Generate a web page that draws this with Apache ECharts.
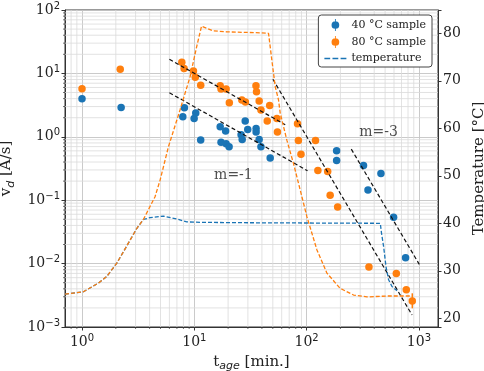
<!DOCTYPE html>
<html lang="en">
<head>
  <meta charset="UTF-8">
  <title>deposition rate vs age</title>
  <script src="https://cdn.jsdelivr.net/npm/echarts@6/dist/echarts.min.js"></script>
  <style>
    html, body { margin: 0; padding: 0; background: #fff; }
  </style>
</head>
<body>
  <div id="main" style="width: 484px;height:371px;"></div>
  <script>
    // 40 °C sample: age [min] and rate [Å/s]
    var t40 = [1.0, 2.23, 8.16, 7.90, 10.3, 9.96, 11.4, 17.0, 19.0, 17.3, 19.2, 20.4, 28.4, 26.1, 26.7, 29.9, 35.5, 35.5, 37.8, 39.2, 47.4, 185, 185, 321, 459, 352, 595, 761];
    var v40 = [3.98, 2.91, 2.87, 2.08, 2.37, 1.94, 0.887, 1.44, 1.23, 0.819, 0.775, 0.695, 1.77, 1.08, 0.903, 1.30, 1.35, 1.19, 0.910, 0.695, 0.461, 0.605, 0.421, 0.353, 0.264, 0.145, 0.0539, 0.0124];

    // 80 °C sample
    var t80 = [1.0, 2.19, 7.74, 8.11, 9.82, 10.2, 11.4, 17.0, 17.3, 19.2, 20.5, 26.5, 28.5, 35.4, 35.8, 37.8, 39.2, 44.6, 46.9, 54.4, 55.0, 83.0, 84.5, 89.1, 120, 126, 154, 162, 189, 359, 629, 772, 873];
    var v80 = [5.73, 11.6, 15.0, 12.0, 10.9, 8.68, 6.51, 6.37, 5.67, 5.67, 3.44, 3.80, 3.53, 6.37, 5.14, 3.66, 2.64, 1.77, 3.13, 1.94, 1.19, 1.60, 0.877, 0.529, 0.877, 0.294, 0.284, 0.120, 0.0784, 0.00884, 0.00695, 0.00388, 0.00257];

    // error bar that is big enough to see
    var errT80 = [873];
    var errLo80 = [0.00197];
    var errHi80 = [0.0034];

    // temperature profiles [°C]
    var tempTimeOrange = [0.706, 1.03, 1.40, 1.66, 2.04, 2.50, 3.07, 3.52, 4.47, 4.96, 5.88, 7.47, 9.18, 10.5, 11.6, 14.8, 19.5, 38.6, 45.8, 49.0, 52.5, 56.2, 58.2, 66.7, 76.4, 87.7, 100.6, 123.6, 151.7, 199, 262, 345, 520, 838];
    var tempOrange = [25.1, 25.6, 27.4, 28.8, 31.6, 35.2, 38.9, 40.8, 45.6, 49.1, 56.1, 63.9, 70.9, 77.2, 81.5, 80.5, 80.3, 80.1, 80.0, 74.4, 68.8, 66.0, 63.2, 57.5, 52.6, 47.0, 41.4, 34.4, 29.5, 26.3, 24.9, 24.5, 24.7, 24.7];
    var tempTimeBlue = [0.706, 1.03, 1.40, 1.66, 2.04, 2.50, 3.07, 3.52, 4.04, 5.30, 6.74, 8.57, 11.3, 38.6, 453, 464, 485, 509, 537, 576, 638];
    var tempBlue = [25.1, 25.6, 27.4, 28.8, 31.6, 35.2, 38.9, 40.8, 41.2, 41.5, 41.0, 40.3, 40.2, 40.1, 40.0, 38.0, 35.1, 30.9, 28.1, 26.7, 25.8];

    // slope guides (end points)
    var guideUpT = [6.0, 64.5], guideUpV = [16.7, 1.55];
    var guideLoT = [6.0, 101.9], guideLoV = [4.96, 0.292];
    var guideA_T = [50.1, 868], guideA_V = [8.07, 0.00155];
    var guideB_T = [250, 1008], guideB_V = [0.639, 0.00972];

    var notes = [['m=-1', 22.3, 0.248], ['m=-3', 437, 1.157]];

    var X_MIN = 0.7056, X_MAX = 1479, Y_MIN = 0.001, Y_MAX = 100;
    var T_MIN = 18.17, T_MAX = 84.9;

    var BLUE = '#1a74b5', ORANGE = '#ff7f0e';
    var SERIF = 'DejaVu Serif', SANS = 'DejaVu Sans';

    function pairs(xs, ys) {
      return xs.map(function (x, i) { return [x, ys[i]]; });
    }

    // 2..9 x 10^n between lo and hi, for the minor grid
    function minorValues(lo, hi) {
      var out = [];
      for (var e = Math.floor(Math.log10(lo)); e <= Math.ceil(Math.log10(hi)); e++) {
        for (var k = 2; k <= 9; k++) {
          var v = +(k * Math.pow(10, e)).toPrecision(6);
          if (v > lo && v < hi) out.push(v);
        }
      }
      return out;
    }

    function powLabel(v) {
      var e = Math.log10(v);
      var r = Math.round(e);
      if (Math.abs(e - r) > 1e-6) return '';
      return '{b|10}{e|' + (r < 0 ? '\u2212' + (-r) : r) + '}';
    }

    var powRich = {
      b: { fontFamily: SERIF, fontSize: 14, color: '#222', lineHeight: 18 },
      e: { fontFamily: SANS, fontSize: 10, color: '#222', lineHeight: 10, verticalAlign: 'top' }
    };

    var markerIcon = 'path://M4,0h1v14h-1z M9,7a4.5,4.5 0 1 1 -9,0a4.5,4.5 0 1 1 9,0z';
    var dashIcon = 'path://M0,0h5v1.2h-5z M7,0h5v1.2h-5z M14,0h5v1.2h-5z';

    var myChart = echarts.init(document.getElementById('main'));

    option = {
      animation: false,
      backgroundColor: '#fff',
      grid: {
        left: 65, top: 10, width: 373, height: 317,
        outerBoundsMode: 'none',
        containLabel: false,
        show: true, borderColor: '#333', borderWidth: 1
      },
      legend: {
        orient: 'vertical',
        right: 52,
        top: 15,
        padding: [4, 6, 3, 6],
        itemGap: 5,
        itemWidth: 22,
        itemHeight: 12,
        borderColor: '#444',
        borderWidth: 1,
        borderRadius: 3,
        backgroundColor: '#fff',
        textStyle: { fontFamily: SERIF, fontSize: 11, color: '#222' },
        data: [
          { name: '40 °C sample', icon: markerIcon },
          { name: '80 °C sample', icon: markerIcon },
          { name: 'temperature', icon: dashIcon }
        ]
      },
      xAxis: {
        type: 'log',
        min: X_MIN,
        max: X_MAX,
        name: '{a|t}{s|age}{a| [min.]}',
        nameLocation: 'middle',
        nameGap: 25,
        nameTextStyle: {
          rich: {
            a: { fontFamily: SERIF, fontSize: 15, color: '#222', lineHeight: 20 },
            s: { fontFamily: SANS, fontStyle: 'italic', fontSize: 11, color: '#222', lineHeight: 11, verticalAlign: 'bottom' }
          }
        },
        axisLine: { lineStyle: { color: '#333', width: 1 } },
        axisTick: { length: 3.5, lineStyle: { color: '#333' } },
        axisLabel: { margin: 6, formatter: powLabel, rich: powRich, showMinLabel: false, showMaxLabel: false },
        splitLine: { show: true, lineStyle: { color: '#c4c4c4', width: 0.9 } }
      },
      yAxis: [
        {
          type: 'log',
          min: Y_MIN,
          max: Y_MAX,
          name: '{a|v}{s|d}{a| [Å/s]}',
          nameLocation: 'middle',
          nameRotate: 90,
          nameGap: 46,
          nameTextStyle: {
            rich: {
              a: { fontFamily: SERIF, fontSize: 15, color: '#222', lineHeight: 20 },
              s: { fontFamily: SANS, fontStyle: 'italic', fontSize: 11, color: '#222', lineHeight: 11, verticalAlign: 'bottom' }
            }
          },
          axisLine: { show: true, lineStyle: { color: '#333', width: 1 } },
          axisTick: { length: 3.5, lineStyle: { color: '#333' } },
          axisLabel: { margin: 5, formatter: powLabel, rich: powRich },
          splitLine: { show: true, lineStyle: { color: '#c4c4c4', width: 0.9 } }
        },
        {
          type: 'value',
          position: 'right',
          min: T_MIN,
          max: T_MAX,
          name: 'Temperature [°C]',
          nameLocation: 'middle',
          nameRotate: 90,
          nameGap: 27,
          nameTextStyle: { fontFamily: SERIF, fontSize: 15, color: '#222' },
          axisLine: { show: true, lineStyle: { color: '#333', width: 1 } },
          axisTick: { length: 3.5, lineStyle: { color: '#333' } },
          axisLabel: {
            margin: 5,
            fontFamily: SERIF,
            fontSize: 14,
            color: '#222',
            formatter: function (v) { return Math.abs(v % 10) < 1e-6 ? String(v) : ''; }
          },
          splitLine: { show: false }
        }
      ],
      series: [
        {
          // minor vertical grid + ticks
          type: 'custom',
          silent: true,
          clip: false,
          z: 1,
          data: minorValues(X_MIN, X_MAX).map(function (v) { return [v, Y_MIN]; }),
          renderItem: function (params, api) {
            var v = api.value(0);
            var p0 = api.coord([v, Y_MIN]);
            var p1 = api.coord([v, Y_MAX]);
            return {
              type: 'group',
              children: [
                { type: 'line', shape: { x1: p0[0], y1: p0[1], x2: p1[0], y2: p1[1] }, style: { stroke: '#dadada', lineWidth: 0.8 } },
                { type: 'line', shape: { x1: p0[0], y1: p0[1], x2: p0[0], y2: p0[1] + 2 }, style: { stroke: '#333', lineWidth: 0.7 } }
              ]
            };
          }
        },
        {
          // minor horizontal grid + ticks on the rate axis
          type: 'custom',
          silent: true,
          clip: false,
          z: 1,
          data: minorValues(Y_MIN, Y_MAX).map(function (v) { return [X_MIN, v]; }),
          renderItem: function (params, api) {
            var v = api.value(1);
            var p0 = api.coord([X_MIN, v]);
            var p1 = api.coord([X_MAX, v]);
            return {
              type: 'group',
              children: [
                { type: 'line', shape: { x1: p0[0], y1: p0[1], x2: p1[0], y2: p1[1] }, style: { stroke: '#dadada', lineWidth: 0.8 } },
                { type: 'line', shape: { x1: p0[0] - 2, y1: p0[1], x2: p0[0], y2: p0[1] }, style: { stroke: '#333', lineWidth: 0.7 } }
              ]
            };
          }
        },
        {
          name: '40 °C sample',
          type: 'scatter',
          symbolSize: 7.5,
          z: 3,
          itemStyle: { color: BLUE, opacity: 1 },
          data: pairs(t40, v40)
        },
        {
          name: '80 °C sample',
          type: 'scatter',
          symbolSize: 7.5,
          z: 3,
          itemStyle: { color: ORANGE, opacity: 1 },
          data: pairs(t80, v80)
        },
        {
          name: '80 °C sample',
          type: 'custom',
          z: 3,
          silent: true,
          data: errT80.map(function (t, i) { return [t, errLo80[i], errHi80[i]]; }),
          renderItem: function (params, api) {
            var lo = api.coord([api.value(0), api.value(1)]);
            var hi = api.coord([api.value(0), api.value(2)]);
            return { type: 'line', shape: { x1: lo[0], y1: lo[1], x2: hi[0], y2: hi[1] }, style: { stroke: ORANGE, lineWidth: 1.5 } };
          }
        },
        {
          type: 'line',
          symbol: 'none',
          silent: true,
          z: 4,
          lineStyle: { color: '#111', width: 1.2, type: [4, 2.5] },
          data: pairs(guideUpT, guideUpV)
        },
        {
          type: 'line',
          symbol: 'none',
          silent: true,
          z: 4,
          lineStyle: { color: '#111', width: 1.2, type: [4, 2.5] },
          data: pairs(guideLoT, guideLoV)
        },
        {
          type: 'line',
          symbol: 'none',
          silent: true,
          z: 4,
          lineStyle: { color: '#111', width: 1.2, type: [4, 2.5] },
          data: pairs(guideA_T, guideA_V)
        },
        {
          type: 'line',
          symbol: 'none',
          silent: true,
          z: 4,
          lineStyle: { color: '#111', width: 1.2, type: [4, 2.5] },
          data: pairs(guideB_T, guideB_V)
        },
        {
          // slope annotations
          type: 'scatter',
          symbolSize: 0,
          silent: true,
          z: 4,
          label: {
            show: true,
            position: 'inside',
            fontFamily: SERIF,
            fontSize: 14,
            color: '#222',
            formatter: function (p) { return p.data.name; }
          },
          data: notes.map(function (n) { return { name: n[0], value: [n[1], n[2]] }; })
        },
        {
          name: 'temperature',
          type: 'line',
          yAxisIndex: 1,
          symbol: 'none',
          silent: true,
          z: 5,
          color: BLUE,
          lineStyle: { color: BLUE, width: 1.3, type: [4, 2] },
          data: pairs(tempTimeBlue, tempBlue)
        },
        {
          name: 'temperature',
          type: 'line',
          yAxisIndex: 1,
          symbol: 'none',
          silent: true,
          z: 5,
          color: ORANGE,
          lineStyle: { color: ORANGE, width: 1.3, type: [4, 2] },
          data: pairs(tempTimeOrange, tempOrange)
        }
      ]
    };

    myChart.setOption(option);
  </script>
</body>
</html>
